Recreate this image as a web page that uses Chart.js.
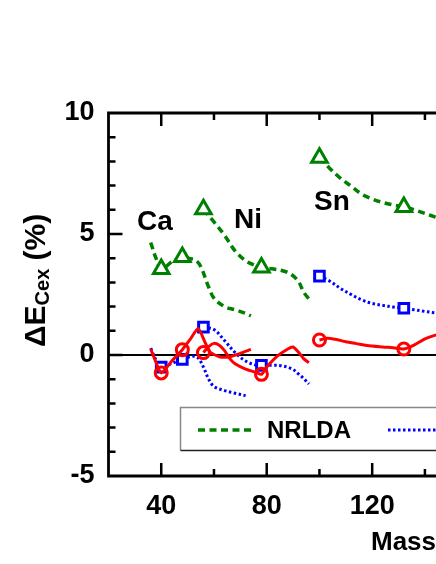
<!DOCTYPE html>
<html>
<head>
<meta charset="utf-8">
<script src="https://cdn.jsdelivr.net/npm/chart.js@4.4.0/dist/chart.umd.min.js"></script>
<style>
  html, body { margin: 0; padding: 0; background: #fff; overflow: hidden; }
  #wrap { width: 436px; height: 564px; }
</style>
</head>
<body>
<div id="wrap"><canvas id="chart" width="436" height="564"></canvas></div>
<script>
// [mass number, deviation %] for each isotope chain
const nrldaCa = [[36, 4.65], [38, 4.0], [40, 3.55], [44, 3.85], [48, 4.05], [50, 4.0], [53, 3.92], [55, 3.65], [58, 2.8], [60, 2.35], [64, 2.0], [68, 1.87], [72, 1.72], [74, 1.62]];
const nrldaNi = [[56, 6.02], [60, 5.5], [64, 4.95], [68, 4.3], [72, 3.9], [76, 3.68], [78, 3.62], [82, 3.56], [86, 3.48], [89, 3.35], [92, 3.05], [94, 2.6], [96, 2.32]];
const nrldaSn = [[100, 8.15], [104, 7.7], [108, 7.3], [112, 6.98], [116, 6.65], [120, 6.45], [124, 6.3], [128, 6.2], [132, 6.12], [136, 6.0], [140, 5.85], [144, 5.7], [148, 5.55]];

const dottedCa = [[36, 0.28], [38, -0.2], [40, -0.5], [44, -0.35], [48, -0.18], [52, -0.05], [54, -0.12], [56, -0.5], [58, -1.0], [60, -1.3], [64, -1.47], [68, -1.58], [72, -1.68]];
const dottedNi = [[56, 1.15], [60, 1.05], [64, 0.6], [68, 0.1], [72, -0.25], [76, -0.42], [78, -0.43], [82, -0.42], [86, -0.45], [90, -0.6], [92, -0.78], [94, -0.97], [96, -1.2]];
const dottedSn = [[100, 3.26], [104, 3.05], [108, 2.75], [112, 2.5], [116, 2.28], [120, 2.13], [124, 2.05], [128, 1.98], [132, 1.93], [136, 1.87], [140, 1.8], [144, 1.74], [148, 1.68]];

const solidCa = [[36, 0.25], [38, -0.3], [40, -0.74], [44, -0.25], [48, 0.22], [51, 0.65], [54, 1.1], [56.5, 0.55], [58.5, 0.12], [62, -0.07], [66, -0.07], [70, 0.07], [74, 0.23]];
const solidNi = [[56, 0.1], [58, 0.35], [60, 0.48], [62, 0.4], [64, 0.18], [66, -0.15], [68, -0.36], [72, -0.58], [76, -0.72], [78, -0.8], [80, -0.5], [84, -0.05], [88, 0.25], [90, 0.33], [92, 0.12], [94, -0.15], [96, -0.32]];
const solidSn = [[100, 0.62], [103, 0.69], [106, 0.65], [110, 0.55], [114, 0.47], [118, 0.39], [124, 0.33], [128, 0.3], [132, 0.25], [136, 0.42], [140, 0.67], [144, 0.82], [148, 0.92]];

// doubly magic nuclei carry the symbols
const magicMass = [40, 48, 56, 78, 100, 132];
const nrldaMagic = [3.55, 4.05, 6.02, 3.62, 8.15, 6.12];
const dottedMagic = [-0.5, -0.18, 1.15, -0.43, 3.26, 1.93];
const solidMagic = [-0.74, 0.22, 0.1, -0.8, 0.62, 0.25];

const xTickValues = [20, 40, 60, 80, 100, 120, 140];
const yTickValues = [-5, -4, -3, -2, -1, 0, 1, 2, 3, 4, 5, 6, 7, 8, 9, 10];

const chainLabels = [
    { text: 'Ca', x: 37.6, y: 5.5 },
    { text: 'Ni', x: 72.9, y: 5.58 },
    { text: 'Sn', x: 104.7, y: 6.32 }
];
const legendLabels = ['NRLDA', 'RLDA', 'HF'];

const GREEN = 'rgb(0,128,0)';
const BLUE = 'rgb(0,0,255)';
const RED = 'rgb(255,0,0)';
const FONT = '"Liberation Sans", Arial, sans-serif';

const toPoints = (pairs) => pairs.map(p => ({ x: p[0], y: p[1] }));

function chainLine(pairs, color, width, dash, tension) {
    return {
        type: 'line',
        data: toPoints(pairs),
        borderColor: color,
        borderWidth: width,
        borderDash: dash,
        tension: tension,
        pointRadius: 0,
        fill: false
    };
}

function markers(values, color, style, radius, bg) {
    return {
        type: 'scatter',
        data: magicMass.map((m, i) => ({ x: m, y: values[i] })),
        borderColor: color,
        backgroundColor: bg,
        borderWidth: 3,
        pointStyle: style,
        pointRadius: radius,
        showLine: false
    };
}

// first in the list is drawn on top
const datasets = [
    markers(solidMagic, RED, 'circle', 6, 'rgba(0,0,0,0)'),
    chainLine(solidCa, RED, 3, [], 0.2),
    chainLine(solidNi, RED, 3, [], 0.2),
    chainLine(solidSn, RED, 3, [], 0.3),
    markers(dottedMagic, BLUE, 'rect', 6.8, '#fff'),
    chainLine(dottedCa, BLUE, 3, [2.5, 2.5], 0.35),
    chainLine(dottedNi, BLUE, 3, [2.5, 2.5], 0.35),
    chainLine(dottedSn, BLUE, 3, [2.5, 2.5], 0.35),
    markers(nrldaMagic, GREEN, 'triangle', 9, '#fff'),
    chainLine(nrldaCa, GREEN, 3.5, [7, 4.5], 0.35),
    chainLine(nrldaNi, GREEN, 3.5, [7, 4.5], 0.35),
    chainLine(nrldaSn, GREEN, 3.5, [7, 4.5], 0.35),
    chainLine([[20, 0], [150, 0]], '#000', 2.2, [], 0)
];

const framePlugin = {
    id: 'frame',
    afterDatasetsDraw(chart) {
        const { ctx, chartArea: a, scales: { x, y } } = chart;
        ctx.save();
        ctx.strokeStyle = '#000';
        ctx.lineWidth = 2.8;
        ctx.lineCap = 'butt';
        ctx.beginPath();
        ctx.moveTo(a.right + 10, a.top);
        ctx.lineTo(a.left, a.top);
        ctx.lineTo(a.left, a.bottom);
        ctx.lineTo(a.right + 10, a.bottom);
        ctx.stroke();

        // inward ticks
        ctx.lineWidth = 2.5;
        ctx.beginPath();
        xTickValues.forEach(v => {
            if (v === 20) return;
            const px = x.getPixelForValue(v);
            const len = v % 40 === 0 ? 13 : 7;
            ctx.moveTo(px, a.bottom); ctx.lineTo(px, a.bottom - len);
            ctx.moveTo(px, a.top); ctx.lineTo(px, a.top + len);
        });
        yTickValues.forEach(v => {
            if (v === -5 || v === 10) return;
            const py = y.getPixelForValue(v);
            const len = v % 5 === 0 ? 14 : 7;
            ctx.moveTo(a.left, py); ctx.lineTo(a.left + len, py);
        });
        ctx.stroke();
        ctx.restore();
    },
    afterDraw(chart) {
        const { ctx, chartArea: a, scales: { x, y } } = chart;
        ctx.save();
        ctx.fillStyle = '#000';

        // chain names
        ctx.font = 'bold 28px ' + FONT;
        ctx.textAlign = 'center';
        ctx.textBaseline = 'middle';
        chainLabels.forEach(l => {
            ctx.fillText(l.text, x.getPixelForValue(l.x), y.getPixelForValue(l.y));
        });

        // legend box
        const bx = 180.5, by = 407.5, bh = 43;
        ctx.lineWidth = 1.5;
        ctx.strokeStyle = '#888';
        ctx.beginPath();
        ctx.moveTo(bx, by + bh); ctx.lineTo(bx, by); ctx.lineTo(a.right + 10, by);
        ctx.stroke();
        ctx.strokeStyle = '#222';
        ctx.beginPath();
        ctx.moveTo(bx, by + bh); ctx.lineTo(a.right + 10, by + bh);
        ctx.stroke();

        const ly = 430;
        const samples = [
            { x0: 198, color: GREEN, width: 3.5, dash: [7, 4.5] },
            { x0: 388, color: BLUE, width: 3, dash: [2.5, 2.5] },
            { x0: 578, color: RED, width: 3, dash: [] }
        ];
        ctx.font = 'bold 24px ' + FONT;
        ctx.textAlign = 'left';
        ctx.textBaseline = 'middle';
        samples.forEach((s, i) => {
            ctx.strokeStyle = s.color;
            ctx.lineWidth = s.width;
            ctx.setLineDash(s.dash);
            ctx.beginPath();
            ctx.moveTo(s.x0, ly); ctx.lineTo(s.x0 + 55, ly);
            ctx.stroke();
            ctx.fillText(legendLabels[i], s.x0 + 69, ly + 1);
        });
        ctx.setLineDash([]);

        // x title
        ctx.font = 'bold 26px ' + FONT;
        ctx.textBaseline = 'alphabetic';
        ctx.fillText('Mass Number', 371, 550);

        // y title with subscript
        ctx.translate(45, 347);
        ctx.rotate(-Math.PI / 2);
        ctx.textAlign = 'left';
        ctx.font = 'bold 30px ' + FONT;
        ctx.fillText('\u0394E', 0, 0);
        let w = ctx.measureText('\u0394E').width;
        ctx.font = 'bold 20px ' + FONT;
        ctx.fillText('Cex', w, 4);
        w += ctx.measureText('Cex').width;
        ctx.font = 'bold 30px ' + FONT;
        ctx.fillText(' (%)', w, 0);
        ctx.restore();
    }
};

new Chart(document.getElementById('chart'), {
    type: 'line',
    data: { datasets: datasets },
    options: {
        responsive: false,
        animation: false,
        layout: { autoPadding: false, padding: { top: 113, left: 0, right: 0, bottom: 0 } },
        plugins: {
            legend: { display: false },
            tooltip: { enabled: false }
        },
        scales: {
            x: {
                type: 'linear',
                min: 20,
                max: 144.2,
                afterBuildTicks: (s) => { s.ticks = xTickValues.map(v => ({ value: v })); },
                afterFit: (s) => { s.height = 88; s.paddingLeft = 0; s.paddingRight = 0; },
                grid: { display: false, drawTicks: false },
                border: { display: false },
                ticks: {
                    autoSkip: false,
                    maxRotation: 0,
                    padding: 14,
                    color: '#000',
                    font: { family: FONT, size: 27, weight: 'bold' },
                    callback: (v) => v % 40 === 0 ? String(v) : ''
                }
            },
            y: {
                type: 'linear',
                min: -5,
                max: 10,
                afterBuildTicks: (s) => { s.ticks = yTickValues.map(v => ({ value: v })); },
                afterFit: (s) => { s.width = 108.5; s.paddingTop = 0; s.paddingBottom = 0; },
                grid: { display: false, drawTicks: false },
                border: { display: false },
                ticks: {
                    autoSkip: false,
                    padding: 14,
                    color: '#000',
                    font: { family: FONT, size: 27, weight: 'bold' },
                    callback: (v) => v % 5 === 0 ? String(v) : ''
                }
            }
        }
    },
    plugins: [framePlugin]
});
</script>
</body>
</html>
